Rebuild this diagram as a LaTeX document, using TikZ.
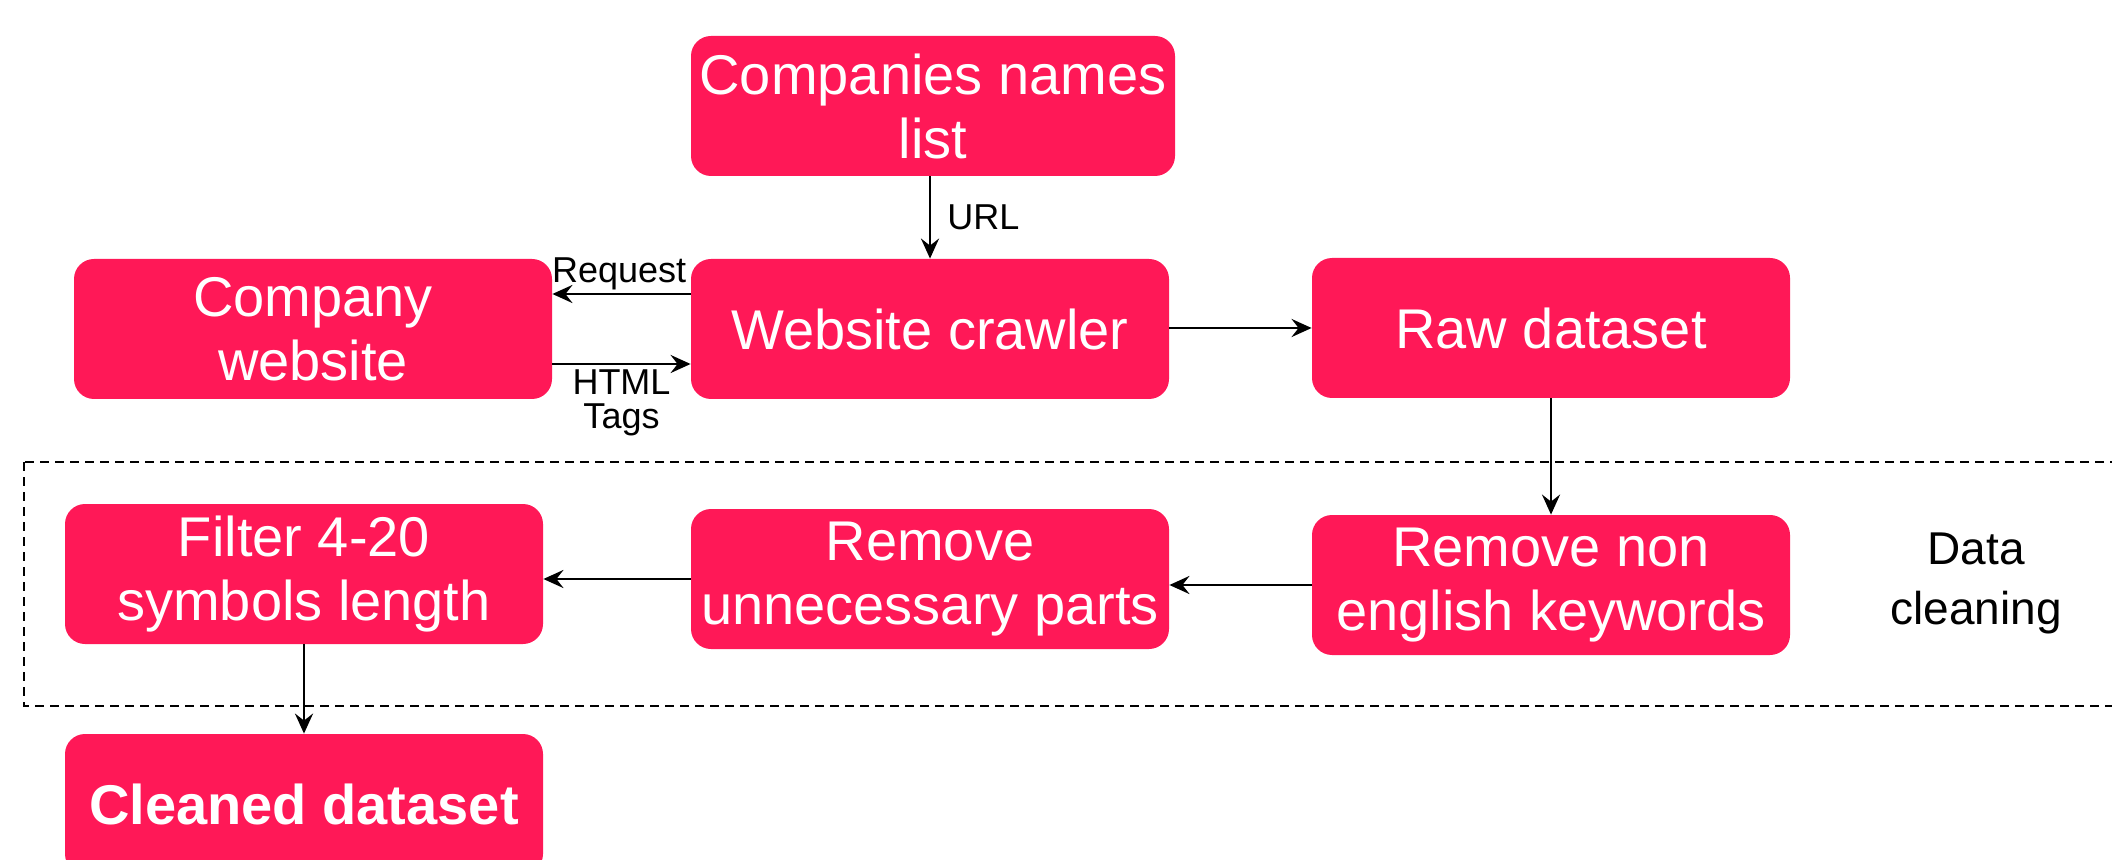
\documentclass[tikz,border=0pt]{standalone}
\usepackage{fontspec}
\setmainfont{Liberation Sans}
\usetikzlibrary{arrows.meta}
\definecolor{boxred}{RGB}{255,24,87}

\tikzset{
  stagebox/.style={fill=boxred, rounded corners=10pt, minimum width=239pt, minimum height=70pt,
    text=white, align=center, inner sep=0pt, font=\fontsize{28}{32}\selectfont},
  flow/.style={line width=1.4pt, -{Stealth[length=10pt,width=9pt,inset=3.5pt]}},
  lbl/.style={inner sep=0pt, align=center, font=\fontsize{18}{19}\selectfont}
}

\begin{document}
\begin{tikzpicture}[x=0.5pt,y=0.5pt,yscale=-1,xscale=1]
\useasboundingbox (0,0) rectangle (2112,860);

%Data cleaning frame
\draw [line width=1.4pt, dash pattern={on 4.5pt off 3pt}] (24,462) rectangle (2140,706);

% Stage Nodes
\node [stagebox, minimum width=242pt] (names) at (933,106) {Companies names\\list};
\node [stagebox] (web) at (313,329) {Company\\website};
\node [stagebox] (crawler) at (930,329) {Website crawler};
\node [stagebox] (raw) at (1551,328) {Raw dataset};
\node [stagebox] (nonen) at (1551,585) {Remove non\\english keywords};
\node [stagebox] (unnec) at (930,579) {Remove\\unnecessary parts};
\node [stagebox] (filter) at (304,574) {Filter 4-20\\symbols length};
\node [stagebox, font=\fontsize{28}{32}\selectfont\bfseries] (cleaned) at (304,804) {Cleaned dataset};

% Text Node
\node [lbl, font=\fontsize{23}{30}\selectfont] (cleanlbl) at (1976,583) {Data\\cleaning};

%Straight Lines
\draw [flow] (names.south -| crawler.north) -- (crawler.north)
  node [lbl, midway, anchor=west, xshift=8pt] (url) {URL};
\draw [flow] ([yshift=-17.5pt]crawler.west) -- ([yshift=-17.5pt]web.east)
  node [lbl, pos=0.0, anchor=south east, inner sep=1.5pt] (req) {Request};
\draw [flow] ([yshift=17.5pt]web.east) -- ([yshift=17.5pt]crawler.west)
  node [lbl, midway, anchor=north, inner sep=2pt, font=\fontsize{18}{17}\selectfont] (html) {HTML\\Tags};
\draw [flow] (crawler.east |- raw.west) -- (raw.west);
\draw [flow] (raw) -- (nonen);
\draw [flow] (nonen.west) -- (nonen.west -| unnec.east);
\draw [flow] (unnec.west) -- (unnec.west -| filter.east);
\draw [flow] (filter) -- (cleaned);
\end{tikzpicture}
\end{document}
